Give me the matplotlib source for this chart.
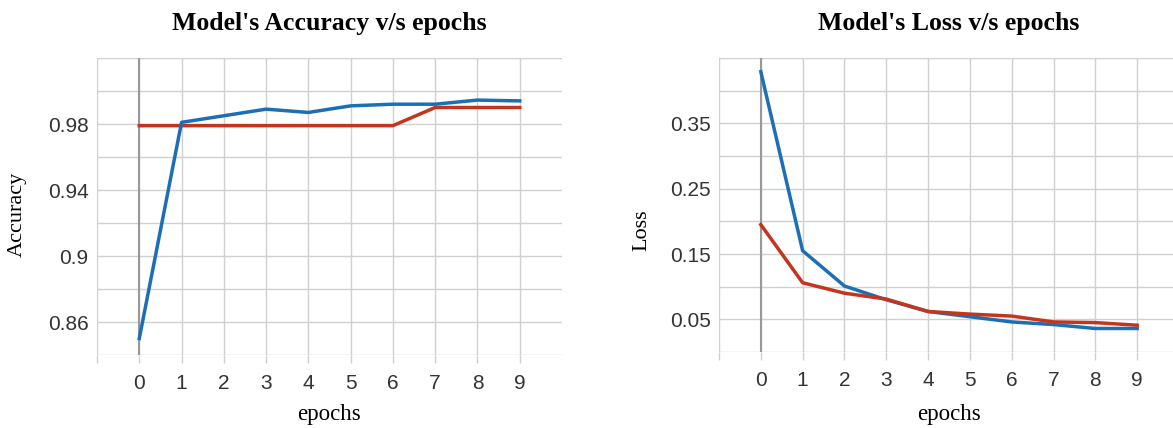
import numpy as np
import matplotlib.pyplot as plt

epochs = list(range(10))

# accuracy per epoch
acc_train = [0.850, 0.981, 0.985, 0.989, 0.987, 0.991, 0.992, 0.992, 0.9945, 0.994]
acc_val = [0.979, 0.979, 0.979, 0.979, 0.979, 0.979, 0.979, 0.990, 0.990, 0.990]

# loss per epoch
loss_train = [0.429, 0.155, 0.101, 0.080, 0.062, 0.054, 0.046, 0.042, 0.036, 0.036]
loss_val = [0.195, 0.106, 0.090, 0.081, 0.062, 0.058, 0.055, 0.046, 0.045, 0.041]

acc_ticks = [0.86, 0.9, 0.94, 0.98]
acc_tick_labels = ["0.86", "0.9", "0.94", "0.98"]
loss_ticks = [0.05, 0.15, 0.25, 0.35]
loss_tick_labels = ["0.05", "0.15", "0.25", "0.35"]

BLUE = "#1d6fb5"
RED = "#c4351f"
GRID = "#d0d0d0"
SERIF = "Liberation Serif"
SANS = "Liberation Sans"

fig = plt.figure(figsize=(11.73, 4.28), dpi=100)
ax1 = fig.add_axes([97 / 1173, 73 / 428, 465 / 1173, 297 / 428])
ax2 = fig.add_axes([719 / 1173, 76 / 428, 460 / 1173, 294 / 428])


def style(ax, ylim, step, ticks, labels, title, ylabel, ylab_xy, xlab_y):
    ax.set_xlim(-1, 10)
    ax.set_ylim(*ylim)
    for s in ax.spines.values():
        s.set_visible(False)
    ax.set_xticks(epochs)
    ax.set_xticklabels([str(e) for e in epochs], fontfamily=SANS, fontsize=15, color="#333333")
    ax.set_xticks([-1], minor=True)
    ax.set_yticks(ticks)
    ax.set_yticklabels(labels, fontfamily=SANS, fontsize=15, color="#333333")
    ax.set_yticks(np.arange(ylim[0], ylim[1] + step / 2, step), minor=True)
    ax.tick_params(axis="x", which="both", length=6, color=GRID, width=1, pad=8)
    ax.tick_params(axis="y", which="both", length=0, pad=6)
    ax.grid(True, which="both", color=GRID, linewidth=1)
    ax.set_axisbelow(True)
    ax.axvline(0, color="#999999", linewidth=1.5, zorder=1)
    ax.set_title(title, fontfamily=SERIF, fontweight="bold", fontsize=18.5, pad=20)
    ax.set_xlabel("epochs", fontfamily=SERIF, fontsize=16.5, va="center")
    ax.xaxis.set_label_coords(0.5, xlab_y)
    ax.set_ylabel(ylabel, fontfamily=SERIF, fontsize=16)
    ax.yaxis.set_label_coords(*ylab_xy)


style(ax1, (0.84, 1.02), 0.02, acc_ticks, acc_tick_labels,
      "Model's Accuracy v/s epochs", "Accuracy", (-0.15, 0.475), -0.199)
ax1.plot(epochs, acc_val, color=RED, linewidth=2.5, zorder=3)
ax1.plot(epochs, acc_train, color=BLUE, linewidth=2.5, zorder=4)

style(ax2, (0.0, 0.45), 0.05, loss_ticks, loss_tick_labels,
      "Model's Loss v/s epochs", "Loss", (-0.146, 0.415), -0.211)
ax2.plot(epochs, loss_val, color=RED, linewidth=2.5, zorder=4)
ax2.plot(epochs, loss_train, color=BLUE, linewidth=2.5, zorder=3)

fig.savefig("out.png", dpi=100)
